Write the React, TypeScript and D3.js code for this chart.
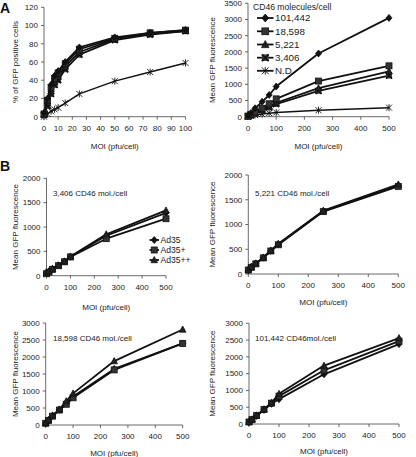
import React from 'react';
import * as d3 from 'd3';

// ---------- DATA ----------
const moiA = [0, 2.5, 5, 7.5, 10, 15, 25, 50, 75, 100];
const moiB = [0, 10, 25, 50, 75, 100, 250, 500];

const cd46Labels = ['101,442', '18,598', '5,221', '3,406', 'N.D'];
const cd46Markers = ['diamond', 'square', 'triangle', 'x', 'star'];

// Panel A left: % of GFP positive cells
const pct101442 = [4, 20, 35, 45, 50, 60, 76, 87, 92, 95];
const pct18598 = [3, 18, 32, 42, 48, 58, 74, 86, 92, 95];
const pct5221 = [3, 15, 28, 38, 44, 55, 71, 85, 91, 94];
const pct3406 = [2, 12, 25, 35, 40, 52, 68, 84, 90, 94];
const pctND = [0, 3, 6, 8, 10, 15, 25, 39, 49, 59];

// Panel A right: Mean GFP fluorescence
const mfi101442 = [30, 110, 260, 460, 670, 930, 1950, 3050];
const mfi18598 = [20, 70, 140, 260, 400, 550, 1100, 1570];
const mfi5221 = [15, 55, 110, 220, 320, 430, 880, 1400];
const mfi3406 = [10, 45, 100, 200, 290, 390, 800, 1270];
const mfiND = [5, 20, 50, 80, 110, 130, 200, 280];

// Panel B
const vectorLabels = ['Ad35', 'Ad35+', 'Ad35++'];
const vectorMarkers = ['diamond', 'square', 'triangle'];

const b3406_Ad35 = [50, 80, 140, 210, 290, 390, 820, 1290];
const b3406_Ad35p = [40, 75, 130, 205, 285, 385, 760, 1170];
const b3406_Ad35pp = [60, 90, 145, 215, 295, 395, 850, 1340];

const b5221_Ad35 = [80, 140, 210, 330, 470, 600, 1270, 1790];
const b5221_Ad35p = [80, 135, 205, 325, 465, 590, 1260, 1770];
const b5221_Ad35pp = [90, 145, 215, 335, 475, 610, 1280, 1810];

const b18598_Ad35 = [60, 140, 270, 450, 630, 840, 1650, 2400];
const b18598_Ad35p = [50, 130, 260, 440, 610, 800, 1620, 2400];
const b18598_Ad35pp = [70, 150, 280, 460, 700, 930, 1880, 2810];

const b101442_Ad35 = [50, 120, 240, 420, 600, 740, 1480, 2380];
const b101442_Ad35p = [60, 130, 250, 430, 620, 830, 1600, 2470];
const b101442_Ad35pp = [70, 140, 260, 440, 640, 900, 1740, 2560];

const ticksPct = [0, 20, 40, 60, 80, 100, 120];
const ticksMoiA = [0, 10, 20, 30, 40, 50, 60, 70, 80, 90, 100];
const ticksMoiB = [0, 100, 200, 300, 400, 500];
const ticksMfi3500 = [0, 500, 1000, 1500, 2000, 2500, 3000, 3500];
const ticksMfi2000 = [0, 500, 1000, 1500, 2000];
const ticksMfi3000 = [0, 500, 1000, 1500, 2000, 2500, 3000];

// ---------- DRAWING ----------
const FONT = '"Liberation Sans", Arial, sans-serif';
const INK = '#111';

function Marker({ type, x, y, s = 3 }: { type: string; x: number; y: number; s?: number }) {
  if (type === 'diamond') {
    return <path d={`M${x},${y - s - 0.5}L${x + s},${y}L${x},${y + s + 0.5}L${x - s},${y}Z`} fill={INK} stroke={INK} strokeWidth={0.8} />;
  }
  if (type === 'square') {
    return <rect x={x - s} y={y - s} width={2 * s} height={2 * s} fill="#333" stroke={INK} strokeWidth={0.8} />;
  }
  if (type === 'triangle') {
    return <path d={`M${x},${y - s - 0.5}L${x + s + 0.3},${y + s - 0.3}L${x - s - 0.3},${y + s - 0.3}Z`} fill="#222" stroke={INK} strokeWidth={0.8} />;
  }
  if (type === 'x') {
    return (
      <g stroke={INK} strokeWidth={1.8}>
        <rect x={x - s + 0.5} y={y - s + 0.5} width={2 * s - 1} height={2 * s - 1} fill="#555" stroke="#333" strokeWidth={0.8} />
        <line x1={x - s} y1={y - s} x2={x + s} y2={y + s} />
        <line x1={x - s} y1={y + s} x2={x + s} y2={y - s} />
      </g>
    );
  }
  // star (asterisk)
  return (
    <g stroke={INK} strokeWidth={0.9}>
      <line x1={x - s} y1={y - s} x2={x + s} y2={y + s} />
      <line x1={x - s} y1={y + s} x2={x + s} y2={y - s} />
      <line x1={x} y1={y - s - 0.5} x2={x} y2={y + s + 0.5} />
    </g>
  );
}

type Series = { xs: number[]; ys: number[]; marker: string; width: number };

type PanelProps = {
  xr: [number, number];
  yr: [number, number];
  xMax: number;
  yMax: number;
  xTicks: number[];
  yTicks: number[];
  series: Series[];
  yLabel: string;
  xLabelY: number;
  yLabelX: number;
  annotation?: { text: string; x: number; y: number };
};

function Panel(p: PanelProps) {
  const x = d3.scaleLinear().domain([0, p.xMax]).range(p.xr);
  const y = d3.scaleLinear().domain([0, p.yMax]).range(p.yr);
  const x0 = p.xr[0];
  const yb = p.yr[0];
  const ymid = (p.yr[0] + p.yr[1]) / 2;
  const xmid = (p.xr[0] + p.xr[1]) / 2;
  return (
    <g fontFamily={FONT} fill="#222">
      <line x1={x0} y1={yb} x2={x0} y2={p.yr[1]} stroke="#444" strokeWidth={0.8} />
      <line x1={x0} y1={yb} x2={p.xr[1]} y2={yb} stroke="#444" strokeWidth={0.8} />
      {p.yTicks.map((t) => (
        <g key={'y' + t}>
          <line x1={x0 - 3} x2={x0} y1={y(t)} y2={y(t)} stroke="#444" strokeWidth={0.8} />
          <text x={x0 - 6} y={y(t)} dy="0.35em" textAnchor="end" fontSize={8}>
            {t}
          </text>
        </g>
      ))}
      {p.xTicks.map((t) => (
        <g key={'x' + t}>
          <line x1={x(t)} x2={x(t)} y1={yb} y2={yb + 3} stroke="#444" strokeWidth={0.8} />
          <text x={x(t)} y={yb + 14} textAnchor="middle" fontSize={8}>
            {t}
          </text>
        </g>
      ))}
      <text x={xmid} y={p.xLabelY} dy="0.35em" textAnchor="middle" fontSize={8}>
        MOI (pfu/cell)
      </text>
      <text
        transform={`translate(${p.yLabelX},${ymid}) rotate(-90)`}
        dy="0.35em"
        textAnchor="middle"
        fontSize={8}
      >
        {p.yLabel}
      </text>
      {p.annotation && (
        <text x={p.annotation.x} y={p.annotation.y} dy="0.35em" fontSize={8}>
          {p.annotation.text}
        </text>
      )}
      {p.series.map((s, si) => {
        const pts: [number, number][] = s.xs.map((v, i) => [x(v), y(s.ys[i])]);
        const d = d3.line()(pts) || '';
        return (
          <g key={si}>
            <path d={d} fill="none" stroke={INK} strokeWidth={s.width} strokeLinejoin="round" />
            {pts.map((pt, i) => (
              <Marker key={i} type={s.marker} x={pt[0]} y={pt[1]} />
            ))}
          </g>
        );
      })}
    </g>
  );
}

function LegendRow({ x1, x2, y, marker, label, fs, ms }: { x1: number; x2: number; y: number; marker: string; label: string; fs: number; ms: number }) {
  return (
    <g fontFamily={FONT}>
      <line x1={x1} x2={x2} y1={y} y2={y} stroke={INK} strokeWidth={1.8} />
      <Marker type={marker} x={(x1 + x2) / 2} y={y} s={ms} />
      <text x={x2 + 1.5} y={y} dy="0.35em" fontSize={fs} fill="#222">
        {label}
      </text>
    </g>
  );
}

export default function App() {
  const pctData = [pct101442, pct18598, pct5221, pct3406, pctND];
  const mfiData = [mfi101442, mfi18598, mfi5221, mfi3406, mfiND];

  const seriesA1: Series[] = pctData
    .map((ys, i) => ({ xs: moiA, ys, marker: cd46Markers[i], width: i === 4 ? 1.5 : 1.8 }))
    .reverse();
  const seriesA2: Series[] = mfiData
    .map((ys, i) => ({ xs: moiB, ys, marker: cd46Markers[i], width: i === 4 ? 1.5 : 1.8 }))
    .reverse();

  const mk = (arrs: number[][]): Series[] =>
    arrs.map((ys, i) => ({ xs: moiB, ys, marker: vectorMarkers[i], width: 1.8 }));

  const legendRowsA = [18, 31.3, 44.5, 57.7, 70.8];
  const legendRowsB = [240, 250, 260];

  return (
    <svg width={416} height={457} style={{ position: 'absolute', left: 0, top: 0, background: '#fff' }}>
      <rect width={416} height={457} fill="#fff" />
      <text x={0} y={13} fontFamily={FONT} fontWeight="bold" fontSize={14} fill="#111">
        A
      </text>
      <text x={0} y={171} fontFamily={FONT} fontWeight="bold" fontSize={14} fill="#111">
        B
      </text>

      <Panel
        xr={[44, 185.5]}
        yr={[116.7, 7.3]}
        xMax={100}
        yMax={120}
        xTicks={ticksMoiA}
        yTicks={ticksPct}
        series={seriesA1}
        yLabel="% of GFP positive cells"
        xLabelY={146}
        yLabelX={15}
      />

      <Panel
        xr={[248, 389]}
        yr={[116.7, 3.3]}
        xMax={500}
        yMax={3500}
        xTicks={ticksMoiB}
        yTicks={ticksMfi3500}
        series={seriesA2}
        yLabel="Mean GFP fluorescence"
        xLabelY={146}
        yLabelX={212}
      />
      <text x={253} y={7} dy="0.35em" fontFamily={FONT} fontSize={8.6} fill="#222">
        CD46 molecules/cell
      </text>
      {cd46Labels.map((l, i) => (
        <LegendRow key={l} x1={257} x2={273.5} y={legendRowsA[i]} marker={cd46Markers[i]} label={l} fs={9.8} ms={3.4} />
      ))}

      <Panel
        xr={[46.5, 166]}
        yr={[275.7, 178.3]}
        xMax={500}
        yMax={2000}
        xTicks={ticksMoiB}
        yTicks={ticksMfi2000}
        series={mk([b3406_Ad35, b3406_Ad35p, b3406_Ad35pp])}
        yLabel="Mean GFP fluorescence"
        xLabelY={307}
        yLabelX={15}
        annotation={{ text: '3,406 CD46 mol./cell', x: 53, y: 193 }}
      />
      {vectorLabels.map((l, i) => (
        <LegendRow key={l} x1={149.5} x2={159} y={legendRowsB[i]} marker={vectorMarkers[i]} label={l} fs={8.6} ms={3} />
      ))}

      <Panel
        xr={[248.3, 398.3]}
        yr={[274, 175]}
        xMax={500}
        yMax={2000}
        xTicks={ticksMoiB}
        yTicks={ticksMfi2000}
        series={mk([b5221_Ad35, b5221_Ad35p, b5221_Ad35pp])}
        yLabel="Mean GFP fluorescence"
        xLabelY={302}
        yLabelX={212}
        annotation={{ text: '5,221 CD46 mol./cell', x: 255, y: 193 }}
      />

      <Panel
        xr={[45.7, 182.7]}
        yr={[425, 323]}
        xMax={500}
        yMax={3000}
        xTicks={ticksMoiB}
        yTicks={ticksMfi3000}
        series={mk([b18598_Ad35, b18598_Ad35p, b18598_Ad35pp])}
        yLabel="Mean GFP fluorescence"
        xLabelY={453}
        yLabelX={15}
        annotation={{ text: '18,598 CD46 mol./cell', x: 53, y: 338 }}
      />

      <Panel
        xr={[249, 399]}
        yr={[424, 323.3]}
        xMax={500}
        yMax={3000}
        xTicks={ticksMoiB}
        yTicks={ticksMfi3000}
        series={mk([b101442_Ad35, b101442_Ad35p, b101442_Ad35pp])}
        yLabel="Mean GFP fluorescence"
        xLabelY={451}
        yLabelX={212}
        annotation={{ text: '101,442 CD46mol./cell', x: 255, y: 338 }}
      />
    </svg>
  );
}
